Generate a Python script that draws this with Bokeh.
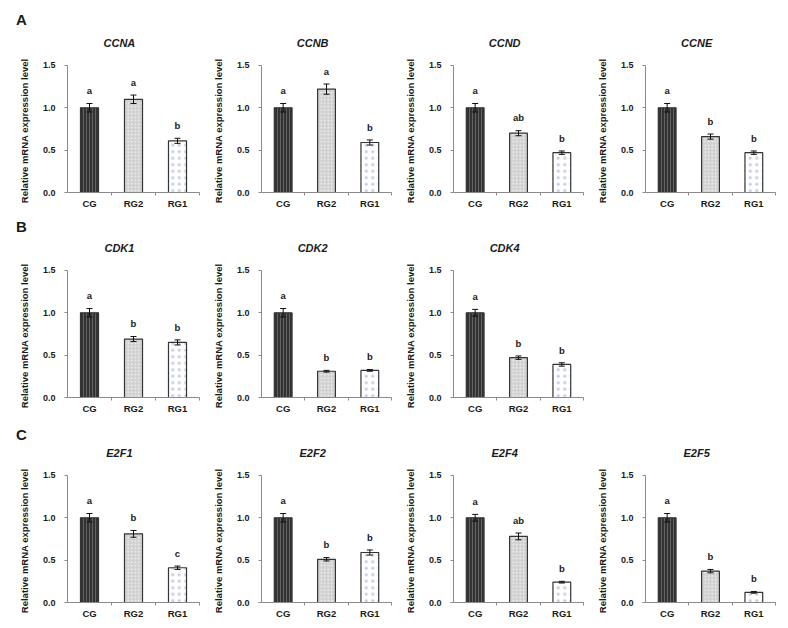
from bokeh.plotting import figure
from bokeh.models import (Range1d, FixedTicker, NumeralTickFormatter, ColumnDataSource,
                          Whisker, TeeHead, Title, Div)
from bokeh.layouts import column, row
from bokeh.embed import file_html
from bokeh.resources import INLINE
from bokeh.core.properties import value

# ---------------- data ----------------
groups = ["CG", "RG2", "RG1"]
genes = ["CCNA", "CCNB", "CCND", "CCNE", "CDK1", "CDK2", "CDK4",
         "E2F1", "E2F2", "E2F4", "E2F5"]
panel_rows = [["CCNA", "CCNB", "CCND", "CCNE"],
              ["CDK1", "CDK2", "CDK4"],
              ["E2F1", "E2F2", "E2F4", "E2F5"]]
panel_letters = ["A", "B", "C"]

cg_mean = [1.00, 1.00, 1.00, 1.00, 1.00, 1.00, 1.00, 1.00, 1.00, 1.00, 1.00]
rg2_mean = [1.10, 1.22, 0.70, 0.66, 0.69, 0.31, 0.47, 0.81, 0.51, 0.78, 0.37]
rg1_mean = [0.61, 0.59, 0.47, 0.47, 0.65, 0.32, 0.39, 0.41, 0.59, 0.24, 0.12]

cg_err = [0.05, 0.05, 0.05, 0.05, 0.05, 0.05, 0.04, 0.05, 0.05, 0.04, 0.05]
rg2_err = [0.05, 0.06, 0.03, 0.03, 0.03, 0.01, 0.02, 0.04, 0.02, 0.04, 0.02]
rg1_err = [0.03, 0.03, 0.02, 0.02, 0.03, 0.01, 0.02, 0.02, 0.03, 0.01, 0.01]

cg_sig = ["a", "a", "a", "a", "a", "a", "a", "a", "a", "a", "a"]
rg2_sig = ["a", "a", "ab", "b", "b", "b", "b", "b", "b", "ab", "b"]
rg1_sig = ["b", "b", "b", "b", "b", "b", "b", "c", "b", "b", "b"]

y_ticks = [0.0, 0.5, 1.0, 1.5]
y_label = "Relative mRNA expression level"

# ---------------- style ----------------
FONT = "Liberation Sans"
AXIS_COLOR = "#8a8a8a"
TEXT_COLOR = "#1a1a1a"
bar_styles = [
    dict(fill_color="#333333", hatch_pattern="|", hatch_color="#626262", hatch_scale=3, hatch_weight=1),
    dict(fill_color="#d0d0d0", hatch_pattern=".", hatch_color="#f4f4f4", hatch_scale=3.5, hatch_weight=1),
    dict(fill_color="#ffffff", hatch_pattern=".", hatch_color="#c4cde0", hatch_scale=6.5, hatch_weight=1),
]
FRAME_H = 161
FRAME_W = 132
BORDER_B = 21
letter_div_heights = [31, 23, 23]
letter_pad_top = [12, 6, 9]


def make_panel(gene, first_col):
    i = genes.index(gene)
    means = [cg_mean[i], rg2_mean[i], rg1_mean[i]]
    errs = [cg_err[i], rg2_err[i], rg1_err[i]]
    sigs = [cg_sig[i], rg2_sig[i], rg1_sig[i]]
    xs = [k + 0.5 for k in range(len(groups))]

    left = 67 if first_col else 59
    p = figure(width=left + FRAME_W + 1, height=FRAME_H + BORDER_B,
               x_range=Range1d(0, 3), y_range=Range1d(0, 1.9),
               output_backend="svg", toolbar_location=None, title=None,
               min_border_left=left, min_border_right=1,
               min_border_top=0, min_border_bottom=BORDER_B)
    p.outline_line_color = None
    p.xgrid.visible = False
    p.ygrid.visible = False
    p.background_fill_color = "white"
    p.border_fill_color = "white"

    for k in range(len(groups)):
        p.vbar(x=[xs[k]], top=[means[k]], bottom=0, width=0.41,
               line_color="#333333", line_width=1.2, **bar_styles[k])

    src = ColumnDataSource(dict(x=xs,
                                upper=[m + e for m, e in zip(means, errs)],
                                lower=[m - e for m, e in zip(means, errs)]))
    w = Whisker(base="x", upper="upper", lower="lower", source=src,
                line_color="#111111", line_width=1, level="overlay",
                upper_head=TeeHead(size=6, line_color="#111111", line_width=1),
                lower_head=TeeHead(size=6, line_color="#111111", line_width=1))
    p.add_layout(w)

    p.text(x=xs, y=[m + e + 0.15 for m, e in zip(means, errs)], text=sigs,
           text_font=value(FONT), text_font_style="bold", text_font_size="9.5px",
           text_color=TEXT_COLOR, text_align="center", text_baseline="middle")

    p.text(x=[1.18], y=[1.76], text=[gene], text_font=value(FONT),
           text_font_style="bold italic", text_font_size="11px",
           text_color=TEXT_COLOR, text_align="center", text_baseline="middle")

    # y axis label as a left-side title, anchored at its top end
    p.add_layout(Title(text=y_label, align="right", offset=27, standoff=20,
                       text_font=FONT, text_font_style="bold",
                       text_font_size="9.5px", text_color=TEXT_COLOR), "left")

    # y axis
    ya = p.yaxis[0]
    ya.ticker = FixedTicker(ticks=y_ticks)
    ya.formatter = NumeralTickFormatter(format="0.0")
    ya.bounds = (0, 1.5)
    ya.axis_line_color = AXIS_COLOR
    ya.major_tick_line_color = AXIS_COLOR
    ya.major_tick_in = 0
    ya.major_tick_out = 3
    ya.minor_tick_line_color = None
    ya.major_label_standoff = 9
    ya.major_label_text_font = FONT
    ya.major_label_text_font_style = "bold"
    ya.major_label_text_font_size = "9px"
    ya.major_label_text_color = TEXT_COLOR

    # x axis
    xa = p.xaxis[0]
    xa.ticker = FixedTicker(ticks=xs, minor_ticks=[1, 2, 3])
    xa.major_label_overrides = {x: g for x, g in zip(xs, groups)}
    xa.bounds = (0, 3)
    xa.axis_line_color = AXIS_COLOR
    xa.major_tick_line_color = None
    xa.major_tick_in = 0
    xa.major_tick_out = 0
    xa.minor_tick_line_color = AXIS_COLOR
    xa.minor_tick_in = 0
    xa.minor_tick_out = 3
    xa.major_label_standoff = 2
    xa.major_label_text_font = FONT
    xa.major_label_text_font_style = "bold"
    xa.major_label_text_font_size = "9.5px"
    xa.major_label_text_color = TEXT_COLOR
    return p


items = []
for r, gene_list in enumerate(panel_rows):
    letter_html = ('<div style="font-family:\'Liberation Sans\',Arial,sans-serif;'
                   'font-size:15px;font-weight:bold;line-height:15px;color:#1a1a1a;'
                   'padding-top:%dpx;padding-left:16px;">%s</div>'
                   % (letter_pad_top[r], panel_letters[r]))
    items.append(Div(text=letter_html, width=776, height=letter_div_heights[r], margin=0))
    figs = [make_panel(g, j == 0) for j, g in enumerate(gene_list)]
    items.append(row(*figs, spacing=0))

layout = column(*items, spacing=0)
open("out.html", "w").write(file_html(layout, INLINE))
